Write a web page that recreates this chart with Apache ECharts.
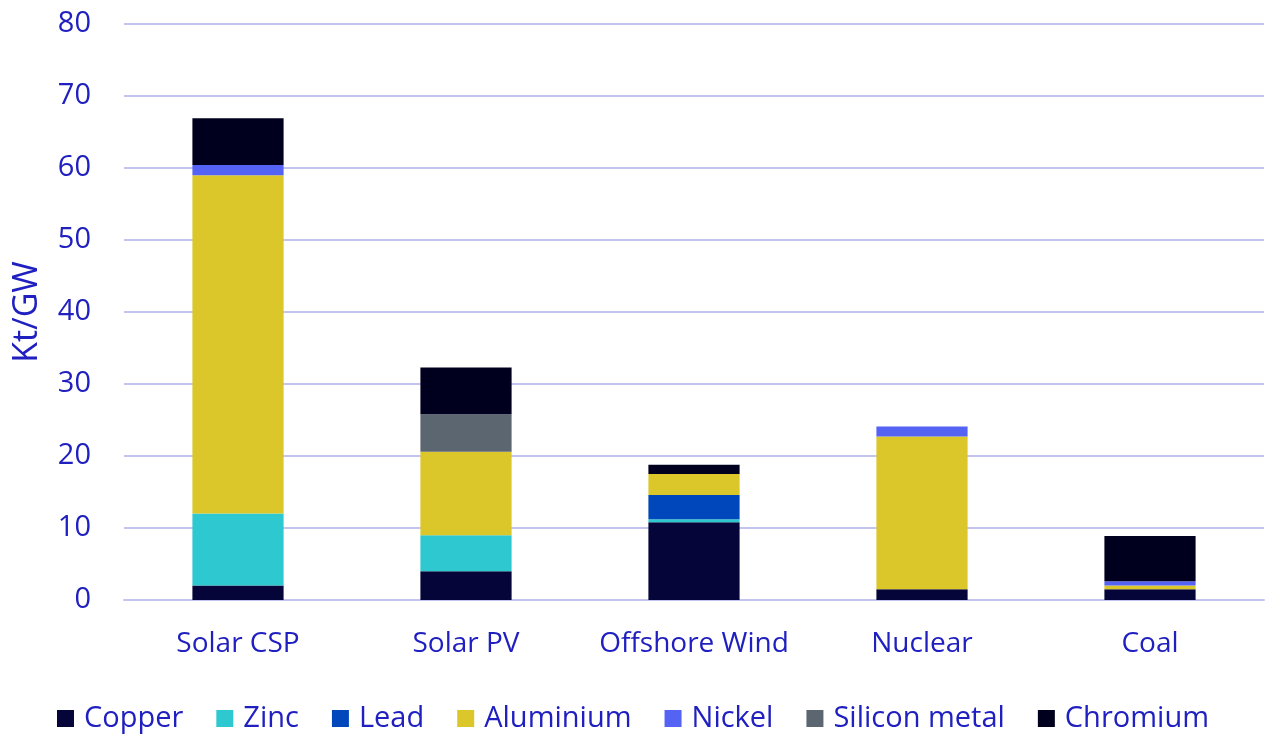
<!DOCTYPE html>
<html><head><meta charset="utf-8">
<script src="https://cdn.jsdelivr.net/npm/echarts@6/dist/echarts.min.js"></script>
<style>html,body{margin:0;padding:0;background:#fff}#c{width:1266px;height:738px}</style>
</head><body><div id="c"></div>
<script>
const categories = ['Solar CSP', 'Solar PV', 'Offshore Wind', 'Nuclear', 'Coal'];
const copper    = [2.0, 4.0, 10.8, 1.5, 1.5];
const zinc      = [10.0, 5.0, 0.4, 0, 0];
const lead      = [0, 0, 3.4, 0, 0];
const aluminium = [47.0, 11.6, 2.9, 21.2, 0.5];
const nickel    = [1.4, 0, 0, 1.4, 0.6];
const silicon   = [0, 5.2, 0, 0, 0];
const chromium  = [6.5, 6.5, 1.3, 0, 6.3];
const yTicks = [0, 10, 20, 30, 40, 50, 60, 70, 80];

const txt = '#2020c0';
const font = 'Open Sans';
function s(name, data, color) {
  return { name, type: 'bar', stack: 't', data, barWidth: '40%', itemStyle: { color }, emphasis: { disabled: true } };
}
const chart = echarts.init(document.getElementById('c'));
chart.setOption({
  animation: false,
  grid: { left: 124, right: 2, top: 24, bottom: 138 },
  legend: {
    bottom: 0, left: 'center', itemWidth: 17, itemHeight: 17, itemGap: 33,
    icon: 'rect',
    textStyle: { color: txt, fontSize: 29, fontFamily: font, padding: [0, 0, 0, 5] },
  },
  xAxis: {
    type: 'category', data: categories,
    axisLine: { show: true, lineStyle: { color: '#c4c4f0', width: 2 } },
    axisTick: { show: false },
    axisLabel: { color: txt, fontSize: 28, fontFamily: font, margin: 30, interval: 0 },
  },
  yAxis: {
    type: 'value', min: yTicks[0], max: yTicks[yTicks.length - 1], interval: 10,
    name: 'Kt/GW', nameLocation: 'middle', nameGap: 80,
    nameTextStyle: { color: txt, fontSize: 34, fontFamily: font },
    axisLine: { show: false }, axisTick: { show: false },
    axisLabel: { color: txt, fontSize: 29, fontFamily: font, margin: 33 },
    splitLine: { lineStyle: { color: '#c4c4f0', width: 2 } },
  },
  series: [
    s('Copper', copper, '#05053a'),
    s('Zinc', zinc, '#2ec9d0'),
    s('Lead', lead, '#0047bb'),
    s('Aluminium', aluminium, '#dcc72a'),
    s('Nickel', nickel, '#5563f5'),
    s('Silicon metal', silicon, '#5c6670'),
    s('Chromium', chromium, '#00001e'),
  ],
});
</script></body></html>
